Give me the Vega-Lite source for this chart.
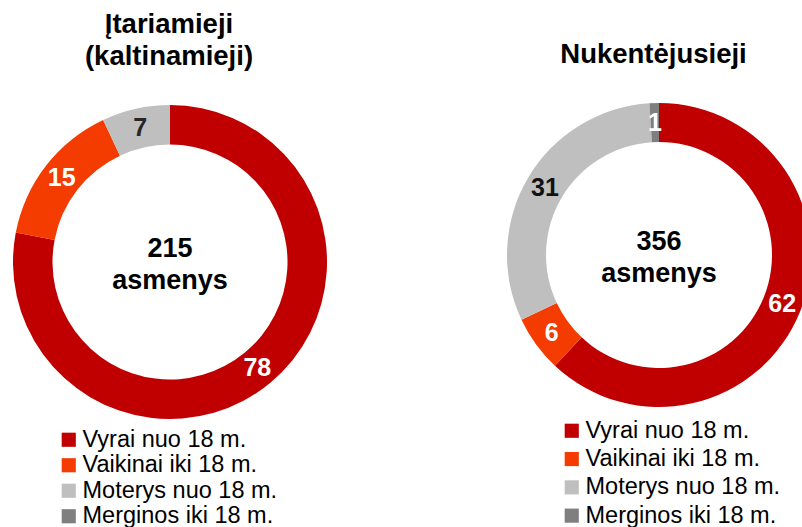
{
  "$schema": "https://vega.github.io/schema/vega-lite/v6.json",
  "width": 802,
  "height": 527,
  "padding": 0,
  "autosize": {"type": "none"},
  "background": "white",
  "config": {
    "view": {"stroke": null},
    "font": "Liberation Sans",
    "legend": {"symbolStrokeWidth": 0}
  },
  "datasets": {
    "left": [
      {"chart": "Įtariamieji", "cat": "Vyrai nuo 18 m.", "v": 78},
      {"chart": "Įtariamieji", "cat": "Vaikinai iki 18 m.", "v": 15},
      {"chart": "Įtariamieji", "cat": "Moterys nuo 18 m.", "v": 7},
      {"chart": "Įtariamieji", "cat": "Merginos iki 18 m.", "v": 0}
    ],
    "right": [
      {"chart": "Nukentėjusieji", "cat": "Vyrai nuo 18 m.", "v": 62},
      {"chart": "Nukentėjusieji", "cat": "Vaikinai iki 18 m.", "v": 6},
      {"chart": "Nukentėjusieji", "cat": "Moterys nuo 18 m.", "v": 31},
      {"chart": "Nukentėjusieji", "cat": "Merginos iki 18 m.", "v": 1}
    ],
    "centers": [
      {"chart": "Įtariamieji", "t": ["215", "asmenys"]},
      {"chart": "Nukentėjusieji", "t": ["356", "asmenys"]}
    ],
    "titles": [
      {"chart": "Įtariamieji", "t": ["Įtariamieji", "(kaltinamieji)"]},
      {"chart": "Nukentėjusieji", "t": ["Nukentėjusieji"]}
    ]
  },
  "layer": [
    {
      "data": {"name": "left"},
      "mark": {"type": "arc", "radius": 157, "radius2": 117.5},
      "encoding": {
        "x": {"field": "chart", "type": "nominal", "axis": null, "scale": {"domain": ["Įtariamieji", "Nukentėjusieji"], "range": [170, 659], "padding": 0}},
        "y": {"field": "chart", "type": "nominal", "axis": null, "scale": {"domain": ["Įtariamieji", "Nukentėjusieji"], "range": [262, 255], "padding": 0}},
        "theta": {"field": "v", "type": "quantitative", "stack": true},
        "order": {"field": "cat", "type": "ordinal", "sort": "descending"},
        "color": {
          "field": "cat", "type": "nominal",
          "scale": {"domain": ["Vyrai nuo 18 m.", "Vaikinai iki 18 m.", "Moterys nuo 18 m.", "Merginos iki 18 m."], "range": ["#C00000", "#F43B00", "#BFBFBF", "#7F7F7F"]},
          "legend": {"orient": "none", "legendX": 57, "legendY": 428, "title": null, "symbolType": "square", "symbolSize": 200, "labelFontSize": 23.5, "labelFont": "Liberation Sans", "labelColor": "#000000", "labelOffset": 2, "rowPadding": 0.5, "padding": 0, "labelLimit": 400}
        }
      }
    },
    {
      "data": {"name": "right"},
      "mark": {"type": "arc", "radius": 152, "radius2": 113},
      "encoding": {
        "x": {"field": "chart", "type": "nominal", "axis": null, "scale": {"domain": ["Įtariamieji", "Nukentėjusieji"], "range": [170, 659], "padding": 0}},
        "y": {"field": "chart", "type": "nominal", "axis": null, "scale": {"domain": ["Įtariamieji", "Nukentėjusieji"], "range": [262, 255], "padding": 0}},
        "theta": {"field": "v", "type": "quantitative", "stack": true},
        "order": {"field": "cat", "type": "ordinal", "sort": "descending"},
        "color": {
          "field": "cat", "type": "nominal",
          "scale": {"domain": ["Vyrai nuo 18 m.", "Vaikinai iki 18 m.", "Moterys nuo 18 m.", "Merginos iki 18 m."], "range": ["#C00000", "#F43B00", "#BFBFBF", "#7F7F7F"]},
          "legend": {"orient": "none", "legendX": 560, "legendY": 419, "title": null, "symbolType": "square", "symbolSize": 200, "labelFontSize": 23.5, "labelFont": "Liberation Sans", "labelColor": "#000000", "labelOffset": 2, "rowPadding": 3.3, "padding": 0, "labelLimit": 400}
        }
      }
    },
    {
      "data": {"name": "left"},
      "transform": [{"filter": "datum.v > 0"}],
      "mark": {"type": "text", "radius": 137, "fontSize": 25, "fontWeight": "bold", "font": "Liberation Sans", "align": "center", "baseline": "middle"},
      "encoding": {
        "x": {"field": "chart", "type": "nominal", "axis": null, "scale": {"domain": ["Įtariamieji", "Nukentėjusieji"], "range": [170, 659], "padding": 0}},
        "y": {"field": "chart", "type": "nominal", "axis": null, "scale": {"domain": ["Įtariamieji", "Nukentėjusieji"], "range": [262, 255], "padding": 0}},
        "theta": {"field": "v", "type": "quantitative", "stack": true},
        "order": {"field": "cat", "type": "ordinal", "sort": "descending"},
        "text": {"field": "v", "type": "quantitative"},
        "color": {"condition": {"test": "datum.cat === 'Moterys nuo 18 m.'", "value": "#262626"}, "value": "#FFFFFF"}
      }
    },
    {
      "data": {"name": "right"},
      "transform": [{"filter": "datum.v > 0"}],
      "mark": {"type": "text", "radius": 132.5, "fontSize": 25, "fontWeight": "bold", "font": "Liberation Sans", "align": "center", "baseline": "middle"},
      "encoding": {
        "x": {"field": "chart", "type": "nominal", "axis": null, "scale": {"domain": ["Įtariamieji", "Nukentėjusieji"], "range": [170, 659], "padding": 0}},
        "y": {"field": "chart", "type": "nominal", "axis": null, "scale": {"domain": ["Įtariamieji", "Nukentėjusieji"], "range": [262, 255], "padding": 0}},
        "theta": {"field": "v", "type": "quantitative", "stack": true},
        "order": {"field": "cat", "type": "ordinal", "sort": "descending"},
        "text": {"field": "v", "type": "quantitative"},
        "color": {"condition": {"test": "datum.cat === 'Moterys nuo 18 m.'", "value": "#111111"}, "value": "#FFFFFF"}
      }
    },
    {
      "data": {"name": "centers"},
      "mark": {"type": "text", "fontSize": 27, "fontWeight": "bold", "font": "Liberation Sans", "align": "center", "baseline": "alphabetic", "lineHeight": 32, "dy": -5, "color": "#000000"},
      "encoding": {
        "x": {"field": "chart", "type": "nominal", "axis": null, "scale": {"domain": ["Įtariamieji", "Nukentėjusieji"], "range": [170, 659], "padding": 0}},
        "y": {"field": "chart", "type": "nominal", "axis": null, "scale": {"domain": ["Įtariamieji", "Nukentėjusieji"], "range": [262, 255], "padding": 0}},
        "text": {"field": "t", "type": "nominal"}
      }
    },
    {
      "data": {"name": "titles"},
      "transform": [{"filter": "datum.chart === 'Įtariamieji'"}],
      "mark": {"type": "text", "fontSize": 27.5, "fontWeight": "bold", "font": "Liberation Sans", "align": "center", "baseline": "alphabetic", "lineHeight": 32, "dy": -229, "dx": -1, "color": "#000000"},
      "encoding": {
        "x": {"field": "chart", "type": "nominal", "axis": null, "scale": {"domain": ["Įtariamieji", "Nukentėjusieji"], "range": [170, 659], "padding": 0}},
        "y": {"field": "chart", "type": "nominal", "axis": null, "scale": {"domain": ["Įtariamieji", "Nukentėjusieji"], "range": [262, 255], "padding": 0}},
        "text": {"field": "t", "type": "nominal"}
      }
    },
    {
      "data": {"name": "titles"},
      "transform": [{"filter": "datum.chart === 'Nukentėjusieji'"}],
      "mark": {"type": "text", "fontSize": 27.5, "fontWeight": "bold", "font": "Liberation Sans", "align": "center", "baseline": "alphabetic", "lineHeight": 32, "dy": -192, "dx": -5.5, "color": "#000000"},
      "encoding": {
        "x": {"field": "chart", "type": "nominal", "axis": null, "scale": {"domain": ["Įtariamieji", "Nukentėjusieji"], "range": [170, 659], "padding": 0}},
        "y": {"field": "chart", "type": "nominal", "axis": null, "scale": {"domain": ["Įtariamieji", "Nukentėjusieji"], "range": [262, 255], "padding": 0}},
        "text": {"field": "t", "type": "nominal"}
      }
    }
  ],
  "resolve": {"scale": {"color": "independent"}, "legend": {"color": "independent"}}
}
